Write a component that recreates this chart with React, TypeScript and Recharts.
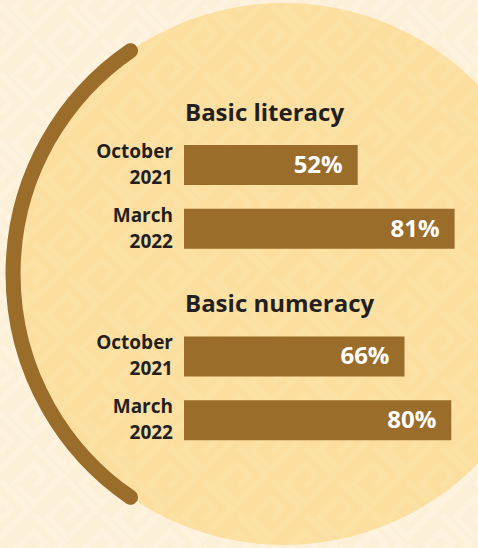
import { Bar, BarChart, LabelList, XAxis, YAxis } from "recharts";

const groups = ["Basic literacy", "Basic numeracy"];
const periods = ["October 2021", "March 2022"];
const literacy = [52, 81];
const numeracy = [66, 80];

const BROWN = "#9A6D2A";
const INK = "#231F20";
const PAGE_BG = "#FDF0D8";
const DISC = "#FCDF9F";
const FONT = "'Open Sans', 'Noto Sans', sans-serif";

interface Row {
  key: string;
  period: string;
  value: number | null;
  title?: string;
}

function groupRows(prefix: string, title: string, values: number[]): Row[] {
  return periods.map((period, i) => ({
    key: `${prefix}-${i}`,
    period,
    value: values[i],
    title: i === 0 ? title : undefined,
  }));
}

// empty middle row keeps the gap for the second heading
const rows: Row[] = [
  ...groupRows("lit", groups[0], literacy),
  { key: "gap", period: "", value: null },
  ...groupRows("num", groups[1], numeracy),
];

interface TickProps {
  x?: number;
  y?: number;
  payload?: { value?: string };
}

function PeriodTick({ x = 0, y = 0, payload }: TickProps) {
  const row = rows.find((r) => r.key === payload?.value);
  if (!row || !row.period) {
    return null;
  }
  const [month, year] = row.period.split(" ");

  return (
    <g transform={`translate(${x}, ${y})`}>
      <text
        textAnchor="end"
        fill={INK}
        fontFamily={FONT}
        fontSize={19}
        fontWeight={700}
      >
        <tspan x={0} dy={-7}>
          {month}
        </tspan>
        <tspan x={0} dy={26}>
          {year}
        </tspan>
      </text>
    </g>
  );
}

interface LabelProps {
  x?: number | string;
  y?: number | string;
  width?: number | string;
  height?: number | string;
  value?: number | string | null;
}

function ValueLabel({ x = 0, y = 0, width = 0, height = 0, value }: LabelProps) {
  if (value == null) {
    return null;
  }
  return (
    <text
      x={Number(x) + Number(width) - 15}
      y={Number(y) + Number(height) / 2 + 8}
      textAnchor="end"
      fill="#FFFFFF"
      fontFamily={FONT}
      fontSize={24}
      fontWeight={700}
    >
      {`${value}%`}
    </text>
  );
}

function GroupTitle({ x = 0, y = 0, value }: LabelProps) {
  if (!value) {
    return null;
  }
  return (
    <text
      x={Number(x) + 1}
      y={Number(y) - 24}
      fill={INK}
      fontFamily={FONT}
      fontSize={24}
      fontWeight={700}
    >
      {value}
    </text>
  );
}

function Backdrop() {
  return (
    <svg
      width={478}
      height={548}
      style={{ position: "absolute", left: 0, top: 0 }}
    >
      <defs>
        <pattern
          id="keys"
          width={48}
          height={48}
          patternUnits="userSpaceOnUse"
          patternTransform="rotate(45)"
        >
          <path
            d="M4 4 H44 V44 H16 V16 H32 V32"
            fill="none"
            stroke="#FFFFFF"
            strokeWidth={6}
          />
        </pattern>
      </defs>
      <rect width={478} height={548} fill={PAGE_BG} />
      <rect width={478} height={548} fill="url(#keys)" opacity={0.18} />
      <circle cx={284} cy={274} r={271} fill={DISC} />
      <circle cx={284} cy={274} r={271} fill="url(#keys)" opacity={0.06} />
      <path
        d="M 130.5 50.7 A 271 271 0 0 0 130.5 497.3"
        fill="none"
        stroke={BROWN}
        strokeWidth={15}
        strokeLinecap="round"
      />
    </svg>
  );
}

export default function App() {
  return (
    <div
      style={{
        position: "absolute",
        left: 0,
        top: 0,
        width: 478,
        height: 548,
        overflow: "hidden",
      }}
    >
      <Backdrop />
      <div style={{ position: "absolute", left: 0, top: 0 }}>
        <BarChart
          width={478}
          height={548}
          data={rows}
          layout="vertical"
          margin={{ top: 133, right: 0, bottom: 96, left: 0 }}
        >
          <XAxis type="number" domain={[0, 88]} hide />
          <YAxis
            type="category"
            dataKey="key"
            width={184}
            axisLine={false}
            tickLine={false}
            tickSize={0}
            tickMargin={11}
            interval={0}
            tick={<PeriodTick />}
          />
          <Bar
            dataKey="value"
            fill={BROWN}
            barSize={40}
            isAnimationActive={false}
          >
            <LabelList dataKey="value" content={<ValueLabel />} />
            <LabelList dataKey="title" content={<GroupTitle />} />
          </Bar>
        </BarChart>
      </div>
    </div>
  );
}
